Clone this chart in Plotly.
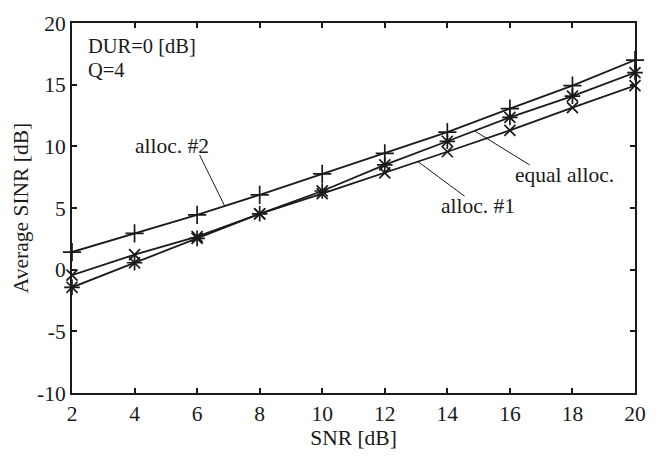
import plotly.graph_objects as go

snr = [2, 4, 6, 8, 10, 12, 14, 16, 18, 20]
alloc2 = [1.43, 2.94, 4.45, 6.07, 7.77, 9.43, 11.15, 13.06, 14.92, 16.99]
equal_alloc = [-1.43, 0.56, 2.54, 4.53, 6.38, 8.50, 10.41, 12.35, 14.07, 15.98]
alloc1 = [-0.45, 1.22, 2.68, 4.53, 6.17, 7.85, 9.56, 11.29, 13.14, 14.92]

y_ticks = [-10, -5, 0, 5, 10, 15, 20]
y_ticktext = ["-10", "-5", "0", "5", "10", "15", "20"]

FONT = "Liberation Serif, Times New Roman, Times, serif"
FS = 21.5
BLACK = "#1a1a1a"

fig = go.Figure()

series = [
    (alloc2, "cross-thin", 13),
    (equal_alloc, "asterisk-open", 13),
    (alloc1, "x-thin", 11),
]
for ys, sym, sz in series:
    fig.add_trace(go.Scatter(
        x=snr, y=ys, mode="lines+markers",
        line=dict(color=BLACK, width=1.8),
        marker=dict(symbol=sym, size=sz, color=BLACK,
                    line=dict(color=BLACK, width=1.7)),
        showlegend=False, cliponaxis=False,
    ))

# callout labels with leader lines to their curves
fig.add_annotation(x=5.2, y=10.0, text="alloc. #2", showarrow=False,
                   xanchor="center", yanchor="middle",
                   font=dict(family=FONT, size=FS, color=BLACK))
fig.add_shape(type="line", x0=6.08, y0=9.3, x1=6.88, y1=5.17,
              line=dict(color=BLACK, width=1))
fig.add_annotation(x=17.73, y=7.7, text="equal alloc.", showarrow=False,
                   xanchor="center", yanchor="middle",
                   font=dict(family=FONT, size=FS, color=BLACK))
fig.add_shape(type="line", x0=16.63, y0=8.5, x1=14.87, y1=11.25,
              line=dict(color=BLACK, width=1))
fig.add_annotation(x=14.99, y=5.17, text="alloc. #1", showarrow=False,
                   xanchor="center", yanchor="middle",
                   font=dict(family=FONT, size=FS, color=BLACK))
fig.add_shape(type="line", x0=14.55, y0=5.96, x1=13.06, y1=8.76,
              line=dict(color=BLACK, width=1))

fig.add_annotation(x=2.45, y=18.12, text="DUR=0 [dB]", showarrow=False,
                   xanchor="left", yanchor="middle",
                   font=dict(family=FONT, size=20.5, color=BLACK))
fig.add_annotation(x=2.45, y=16.22, text="Q=4", showarrow=False,
                   xanchor="left", yanchor="middle",
                   font=dict(family=FONT, size=20.5, color=BLACK))

axis_common = dict(
    showline=True, linecolor=BLACK, linewidth=2, mirror="ticks",
    ticks="inside", ticklen=5, tickwidth=1.5, tickcolor=BLACK,
    showgrid=False, zeroline=False,
    tickfont=dict(family=FONT, size=FS, color=BLACK),
)

fig.update_xaxes(range=[2, 20], dtick=2, tick0=2,
                 title=dict(text="SNR [dB]", standoff=4,
                            font=dict(family=FONT, size=FS, color=BLACK)),
                 **axis_common)
fig.update_yaxes(range=[-10, 20], tickvals=y_ticks, ticktext=y_ticktext,
                 title=dict(text="Average SINR [dB]", standoff=3,
                            font=dict(family=FONT, size=FS, color=BLACK)),
                 **axis_common)

fig.update_layout(
    width=668, height=457,
    margin=dict(l=72, r=33, t=15, b=64),
    plot_bgcolor="white", paper_bgcolor="white",
    font=dict(family=FONT, size=FS, color=BLACK),
)

fig.write_html("out.html")
